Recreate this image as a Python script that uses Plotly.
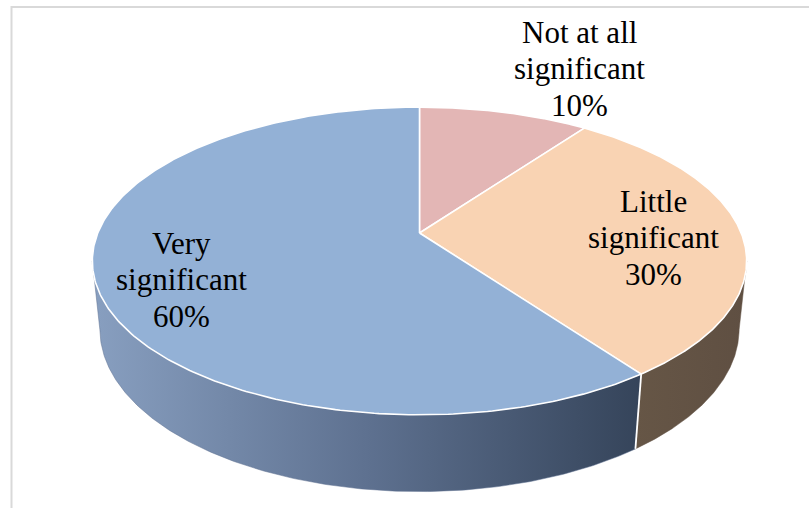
import numpy as np
import plotly.graph_objects as go

# ---- data ----
categories = ["Not at all significant", "Little significant", "Very significant"]
label_lines = [["Not at all", "significant"], ["Little", "significant"], ["Very", "significant"]]
values = [10, 30, 60]

top_colors = ["#E3B6B5", "#F9D3B3", "#93B1D6"]
side_colors = ["#A07F7E", "#635345", "#5E7190"]
side_scales = [
    None,
    [[0, "#665646"], [1, "#5F4F42"]],
    [[0, "#889FC0"], [0.5, "#5E7190"], [1, "#35445A"]],
]
label_pos = [(579, 32), (653, 201), (181, 243)]  # pixel centres of first text line

# ---- projection of a tilted disk (perspective) into pixel space ----
CX, CY = 419.5, 233.0
F, D = 1570.0, 4.88
SIN_E, COS_E = 0.4624, 0.8867
H = 0.241


def proj(alpha_deg, depth=0.0, r=1.0):
    a = np.radians(alpha_deg)
    X = r * np.sin(a)
    u = r * np.cos(a)
    Y = u * SIN_E - depth * COS_E
    Z = u * COS_E + depth * SIN_E
    sx = CX + F * X / (D + Z)
    sy = CY - F * Y / (D + Z)
    return sx, sy


total = float(sum(values))
bounds = np.concatenate([[0], np.cumsum(values)]) / total * 360.0
alpha_s = np.degrees(np.arccos(-COS_E / D))  # silhouette angle
vis_lo, vis_hi = alpha_s, 360 - alpha_s

fig = go.Figure()

# side walls
for i in range(len(values)):
    a0, a1 = max(bounds[i], vis_lo), min(bounds[i + 1], vis_hi)
    if a1 <= a0:
        continue
    ang = np.linspace(a0, a1, 200)
    tx, ty = proj(ang, 0)
    bx, by = proj(ang[::-1], H)
    xs = np.concatenate([tx, bx, tx[:1]])
    ys = np.concatenate([ty, by, ty[:1]])
    kw = dict(fillcolor=side_colors[i])
    if side_scales[i] is not None:
        kw = dict(fillgradient=dict(type="horizontal", colorscale=side_scales[i]))
    fig.add_trace(go.Scatter(x=xs, y=ys, mode="lines", fill="toself",
                             line=dict(width=0.5, color=side_colors[i]),
                             hoverinfo="skip", showlegend=False, **kw))

# visible vertical edges between slices
for b in bounds[1:-1]:
    if vis_lo < b < vis_hi:
        tx, ty = proj(np.array([b]), 0)
        bx, by = proj(np.array([b]), H)
        fig.add_trace(go.Scatter(x=[tx[0], bx[0]], y=[ty[0], by[0]], mode="lines",
                                 line=dict(color="white", width=1.8),
                                 hoverinfo="skip", showlegend=False))

# top faces
for i in range(len(values)):
    ang = np.linspace(bounds[i], bounds[i + 1], 300)
    ax_, ay_ = proj(ang, 0)
    xs = np.concatenate([[CX], ax_, [CX]])
    ys = np.concatenate([[CY], ay_, [CY]])
    fig.add_trace(go.Scatter(x=xs, y=ys, mode="lines", fill="toself",
                             fillcolor=top_colors[i],
                             line=dict(color="white", width=1.6),
                             name=categories[i], hoverinfo="name", showlegend=False))

# labels
LINE_H = 36.5
for i in range(len(values)):
    lx, ly = label_pos[i]
    lines = label_lines[i] + [f"{values[i]/total*100:.0f}%"]
    for k, t in enumerate(lines):
        fig.add_annotation(x=lx, y=ly + k * LINE_H, text=t, showarrow=False,
                           xanchor="center", yanchor="middle",
                           font=dict(family="Liberation Serif, Times New Roman, serif",
                                     size=31, color="black"))

# chart-area border (only top/left visible in crop)
fig.add_shape(type="rect", x0=11.5, y0=7, x1=900, y1=700,
              line=dict(color="#D9D9D9", width=2), layer="below")

fig.update_layout(
    width=809, height=508,
    margin=dict(l=0, r=0, t=0, b=0),
    paper_bgcolor="white", plot_bgcolor="white",
    xaxis=dict(range=[0, 809], visible=False, fixedrange=True),
    yaxis=dict(range=[508, 0], visible=False, fixedrange=True),
)

fig.write_html("out.html")
